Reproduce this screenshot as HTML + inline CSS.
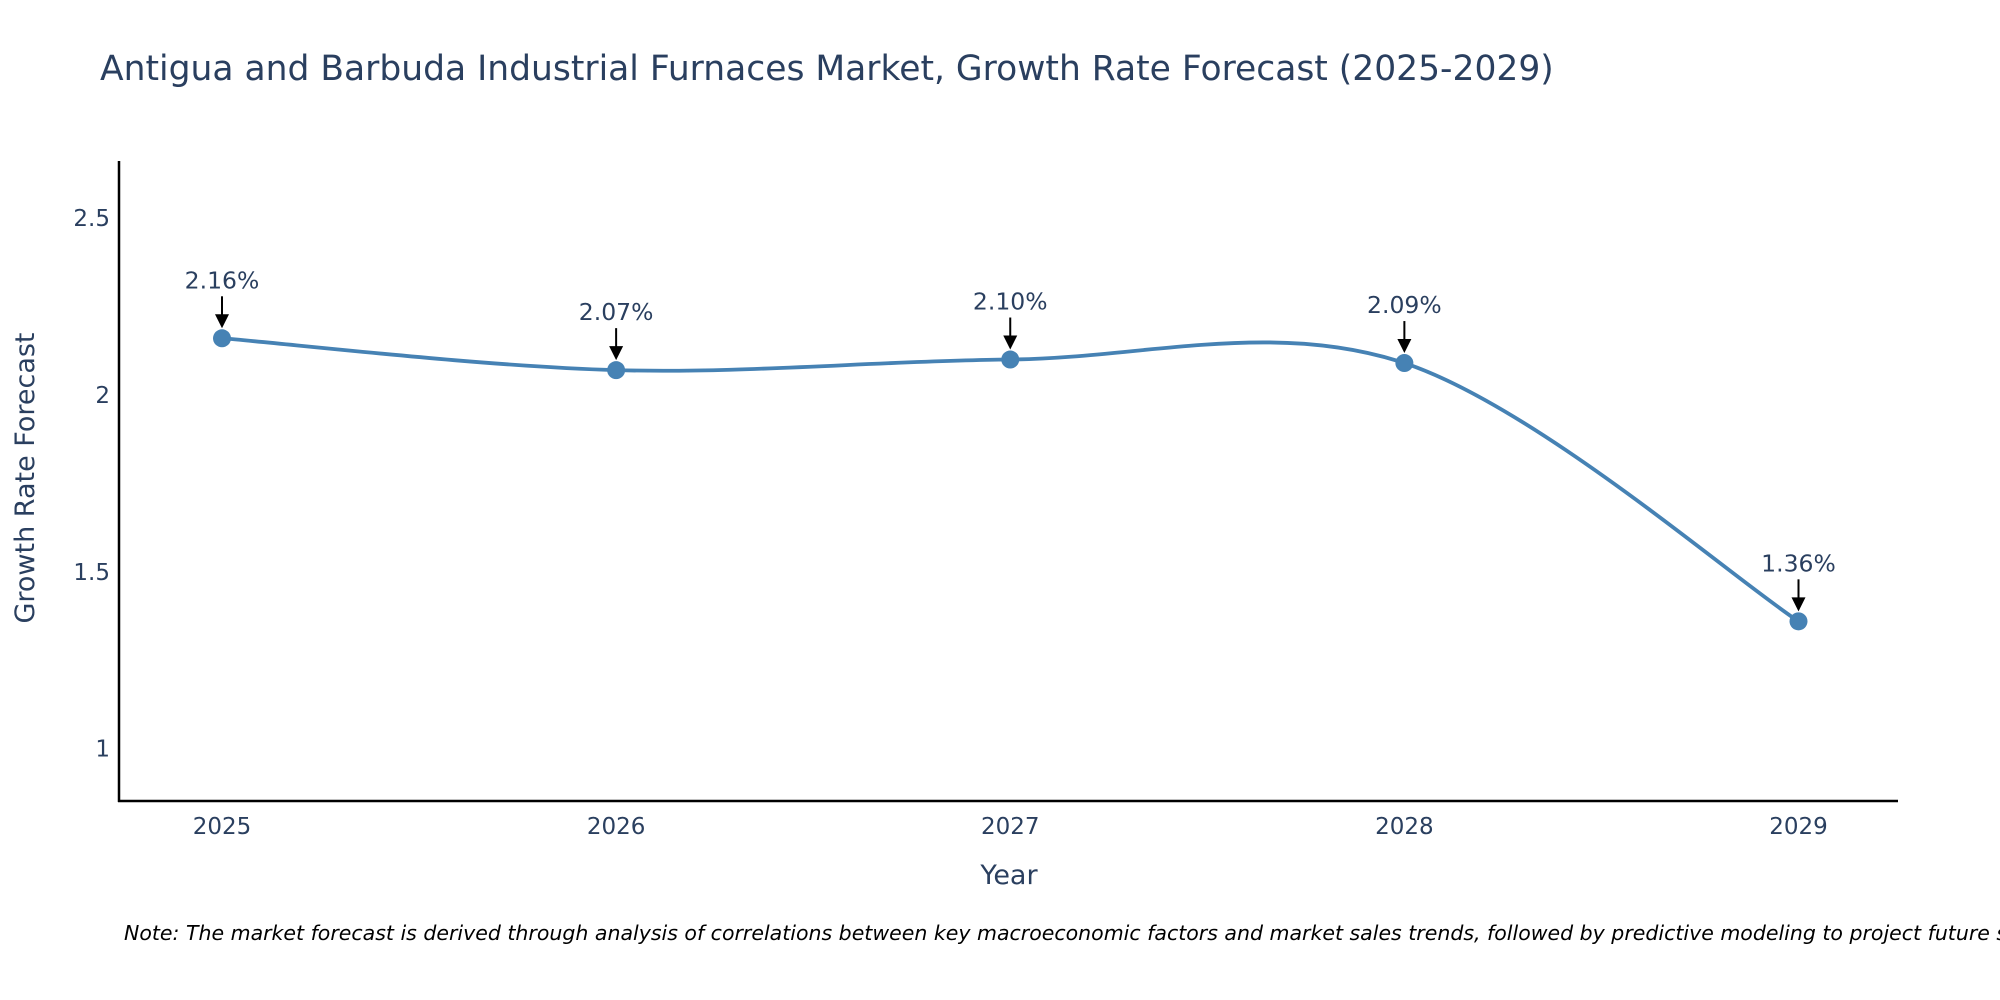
<!DOCTYPE html>
<html><head><meta charset="utf-8"><style>
body{margin:0;background:#fff;}
svg{display:block;font-family:"DejaVu Sans",sans-serif;}
</style></head><body>
<svg id="chart" width="2000" height="1000">
<text x="100" y="80" font-size="34.5" fill="#2a3f5f">Antigua and Barbuda Industrial Furnaces Market, Growth Rate Forecast (2025-2029)</text>
<g id="yticks"></g><g id="xticks"></g>
<line x1="119" y1="161" x2="119" y2="802" stroke="#000" stroke-width="2.5"/>
<line x1="118" y1="801" x2="1898" y2="801" stroke="#000" stroke-width="2.5"/>
<path id="line" fill="none" stroke="#4682b4" stroke-width="3.8"/>
<g id="points"></g><g id="annots"></g>
<text x="1009" y="884" font-size="27" fill="#2a3f5f" text-anchor="middle">Year</text>
<text transform="translate(34,478) rotate(-90)" font-size="27" fill="#2a3f5f" text-anchor="middle">Growth Rate Forecast</text>
<text x="124" y="940" font-size="20.5" font-style="italic" fill="#000">Note: The market forecast is derived through analysis of correlations between key macroeconomic factors and market sales trends, followed by predictive modeling to project future sales.</text>
</svg>
<script>
const years=[2025,2026,2027,2028,2029];
const values=[2.16,2.07,2.10,2.09,1.36];
const labels=["2.16%","2.07%","2.10%","2.09%","1.36%"];
const yTicks=[1,1.5,2,2.5];
const NS="http://www.w3.org/2000/svg";
const xs=i=>222+(i-2025)*(1798.5-222)/4;
const ys=v=>748.7-(v-1)*353.8;
function mk(t,a,p){const e=document.createElementNS(NS,t);for(const k in a)e.setAttribute(k,a[k]);p.appendChild(e);return e;}
const yt=document.getElementById('yticks');
yTicks.forEach(v=>{const t=mk('text',{x:110,y:ys(v)+8,'font-size':23,fill:'#2a3f5f','text-anchor':'end'},yt);t.textContent=String(v);

});
const xt=document.getElementById('xticks');
years.forEach(y=>{const t=mk('text',{x:xs(y),y:834,'font-size':23,fill:'#2a3f5f','text-anchor':'middle'},xt);t.textContent=String(y);

});
const P=years.map((y,i)=>[xs(y),ys(values[i])]);
let d='M'+P[0][0]+','+P[0][1];
for(let i=0;i<P.length-1;i++){const p0=P[Math.max(0,i-1)],p1=P[i],p2=P[i+1],p3=P[Math.min(P.length-1,i+2)];
const c1=[p1[0]+(p2[0]-p0[0])/6,p1[1]+(p2[1]-p0[1])/6],c2=[p2[0]-(p3[0]-p1[0])/6,p2[1]-(p3[1]-p1[1])/6];
d+=` C${c1[0]},${c1[1]} ${c2[0]},${c2[1]} ${p2[0]},${p2[1]}`;}
document.getElementById('line').setAttribute('d',d);
const pg=document.getElementById('points'),ag=document.getElementById('annots');
P.forEach((p,i)=>{const c=mk('circle',{cx:p[0],cy:p[1],r:9,fill:'#4682b4'},pg);


const a=mk('line',{x1:p[0],y1:p[1]-42,x2:p[0],y2:p[1]-22,stroke:'#000','stroke-width':2},ag);


const h=mk('polygon',{points:`${p[0]-7},${p[1]-24} ${p[0]+7},${p[1]-24} ${p[0]},${p[1]-10}`,fill:'#000'},ag);


const t=mk('text',{x:p[0],y:p[1]-50,'font-size':23.5,fill:'#2a3f5f','text-anchor':'middle'},ag);t.textContent=labels[i];

});
</script>
</body></html>
